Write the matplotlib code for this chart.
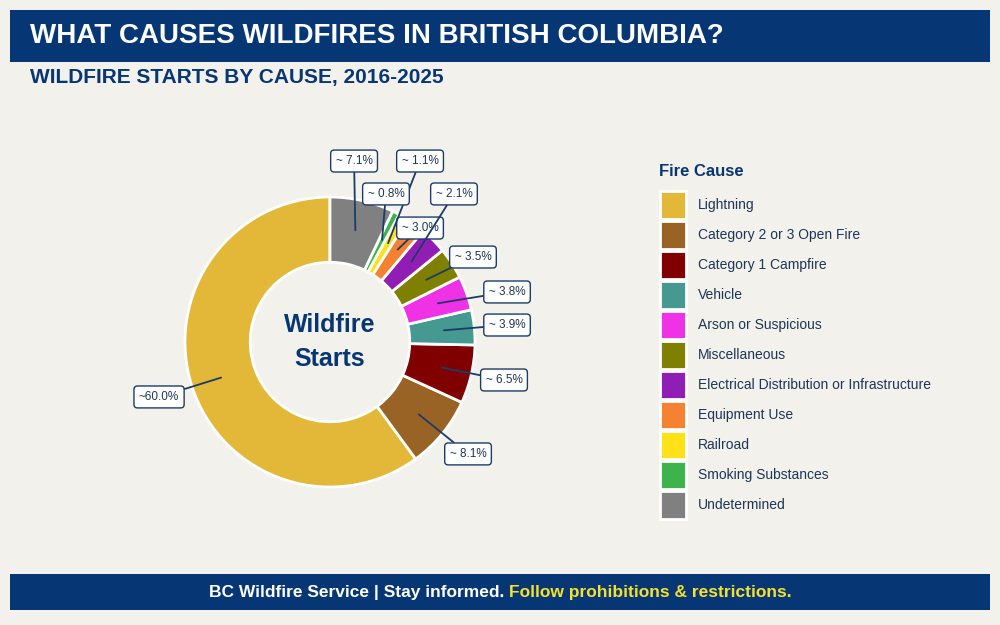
import matplotlib
matplotlib.use("Agg")
import matplotlib.pyplot as plt
from matplotlib.patches import Rectangle
import numpy as np

# ---------------- data ----------------
causes = ["Lightning", "Category 2 or 3 Open Fire", "Category 1 Campfire", "Vehicle",
          "Arson or Suspicious", "Miscellaneous", "Electrical Distribution or Infrastructure",
          "Equipment Use", "Railroad", "Smoking Substances", "Undetermined"]
shares = [60.0, 8.1, 6.5, 3.9, 3.8, 3.5, 3.0, 2.1, 1.1, 0.8, 7.1]
colors = ["#E3B838", "#9A6326", "#800000", "#469990", "#F032E6", "#808000",
          "#911EB4", "#F58231", "#FFE119", "#3CB44B", "#808080"]

# label box positions (data units, pie radius = 1) and wedge each leader points to
label_pos = [(-1.179, -0.379), (0.952, -0.772), (1.200, -0.262), (1.221, 0.117),
             (1.221, 0.345), (0.986, 0.586), (0.621, 0.786), (0.855, 1.021),
             (0.621, 1.248), (0.386, 1.021), (0.166, 1.248)]
leader_to = [0, 1, 2, 3, 4, 5, 7, 6, 8, 9, 10]

BG = "#F3F1EC"
NAVY = "#063673"
TXT = "#1D3557"
FONT = "Liberation Sans"
plt.rcParams["font.family"] = [FONT, "DejaVu Sans"]

W, H = 1000, 625
fig = plt.figure(figsize=(W / 100, H / 100), dpi=100, facecolor=BG)

def fx(px):
    return px / W

def fy(py):
    return 1 - py / H

# header / footer bands
fig.patches.append(Rectangle((fx(10), fy(62)), fx(980), 52 / H, transform=fig.transFigure,
                             facecolor=NAVY, edgecolor="none", zorder=0))
fig.patches.append(Rectangle((fx(10), fy(610)), fx(980), 36 / H, transform=fig.transFigure,
                             facecolor=NAVY, edgecolor="none", zorder=0))

fig.text(fx(30), fy(36), "WHAT CAUSES WILDFIRES IN BRITISH COLUMBIA?", color="white",
         fontsize=20, fontweight="bold", va="center", ha="left")
fig.text(fx(30), fy(78), "WILDFIRE STARTS BY CAUSE, 2016-2025", color=NAVY,
         fontsize=15, fontweight="bold", va="center", ha="left")

# footer two-colour text
t1 = fig.text(0, fy(592), "BC Wildfire Service | Stay informed. ", color="white",
              fontsize=12.5, fontweight="bold", va="center", ha="left")
t2 = fig.text(0, fy(592), "Follow prohibitions & restrictions.", color="#F5E130",
              fontsize=12.5, fontweight="bold", va="center", ha="left")
r = fig.canvas.get_renderer()
w1 = t1.get_window_extent(r).width
w2 = t2.get_window_extent(r).width
x0 = (W - (w1 + w2)) / 2
t1.set_x(fx(x0))
t2.set_x(fx(x0 + w1))

# ---------------- donut ----------------
R = 145.0
cx, cy = 330, 342
half = 230
ax = fig.add_axes([fx(cx - half), fy(cy + half), 2 * half / W, 2 * half / H])
ax.set_facecolor("none")
wedges, _ = ax.pie(shares, colors=colors, startangle=90, counterclock=True,
                   wedgeprops=dict(width=0.45, edgecolor="white", linewidth=2))
lim = half / R
ax.set_xlim(-lim, lim)
ax.set_ylim(-lim, lim)
ax.set_aspect("auto")
ax.axis("off")

ax.text(0, 0.0, "Wildfire\nStarts", ha="center", va="center", fontsize=18,
        fontweight="bold", color=NAVY, linespacing=1.55)

rmid = 0.79
for i, v in enumerate(shares):
    txt = f"~{v:.1f}%" if v >= 10 else f"~ {v:.1f}%"
    w = wedges[leader_to[i]]
    ang = np.deg2rad((w.theta1 + w.theta2) / 2)
    tx, ty = rmid * np.cos(ang), rmid * np.sin(ang)
    ax.annotate(txt, xy=(tx, ty), xytext=label_pos[i], ha="center", va="center",
                fontsize=8.5, color=TXT, zorder=5,
                bbox=dict(boxstyle="round,pad=0.42,rounding_size=0.3", facecolor="white",
                          edgecolor="#1C3B66", linewidth=1),
                arrowprops=dict(arrowstyle="-", color="#1C3B66", linewidth=1.3,
                                shrinkA=0, shrinkB=0))

# ---------------- legend ----------------
fig.text(fx(659), fy(172), "Fire Cause", color=NAVY, fontsize=12, fontweight="bold",
         ha="left", va="center")
leg = fig.legend(wedges, causes, loc="upper left", bbox_to_anchor=(fx(660), fy(191)),
                 frameon=False, fontsize=10,
                 handlelength=1.9, handleheight=2.7, labelspacing=0.16,
                 handletextpad=0.85, borderpad=0, borderaxespad=0)
for t in leg.get_texts():
    t.set_color(TXT)

fig.savefig("out.png", dpi=100, facecolor=BG)
